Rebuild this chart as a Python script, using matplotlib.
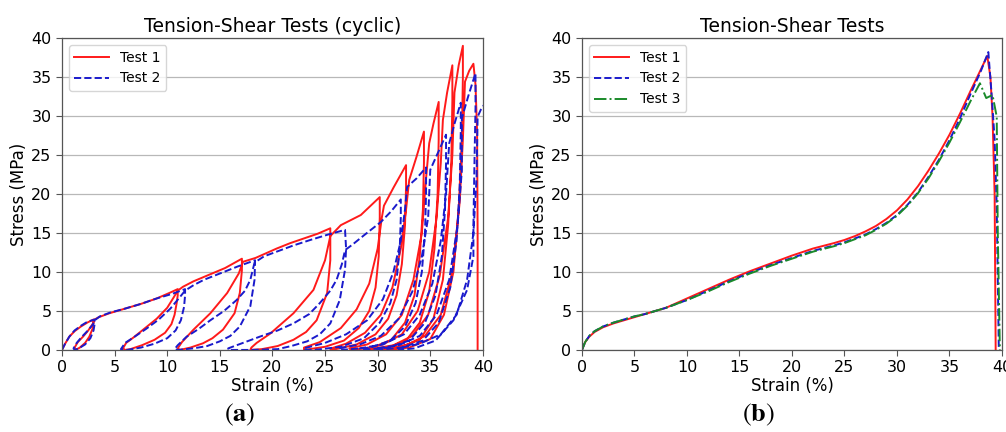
import numpy as np
import matplotlib.pyplot as plt

# ---- (a) cyclic tests, digitised path: envelope -> unload -> reload -> envelope ...
cyc1_strain = [0, 0.3, 0.7, 1.2, 1.8, 2.4, 3.0,
               3.0, 2.9, 2.6, 2.2, 1.7, 1.3,
               1.2, 1.5, 2.0, 2.5, 2.9, 3.1,
               3.5, 4.5, 6.0, 7.5, 9.0, 10.2, 11.0,
               11.0, 10.9, 10.7, 10.4, 9.8, 8.8, 7.6, 6.5, 6.0,
               5.8, 6.1, 6.8, 8.0, 9.0, 10.0, 10.6, 11.0,
               11.5, 12.5, 14.1, 15.5, 17.1,
               17.1, 16.9, 16.4, 15.3, 14.3, 13.4, 12.2, 11.2,
               11.0, 11.4, 12.5, 14.1, 15.7, 16.8, 17.2,
               18.4, 20.4, 21.7, 23.0, 24.3, 25.5,
               25.5, 25.2, 24.2, 23.2, 22.0, 20.5, 19.0, 17.9,
               18.0, 18.5, 19.8, 22.0, 23.9, 25.0, 25.5,
               26.5, 28.4, 30.2,
               30.2, 30.1, 29.8, 29.2, 28.2, 26.8, 25.0, 23.0,
               23.0, 24.5, 26.5, 28.0, 29.2, 30.0, 30.4, 30.6, 31.5, 32.7,
               32.7, 32.6, 32.3, 31.8, 31.0, 29.8, 28.0, 26.0, 25.5,
               25.6, 27.0, 28.8, 30.3, 31.4, 32.2, 32.7, 33.0, 33.7, 34.4,
               34.4, 34.3, 34.0, 33.5, 32.6, 31.3, 29.5, 27.5,
               27.3, 29.0, 30.8, 32.3, 33.4, 34.2, 34.6, 34.9, 35.3, 35.8,
               35.8, 35.7, 35.4, 34.9, 34.0, 32.7, 31.0, 29.0,
               28.8, 30.5, 32.3, 33.8, 34.9, 35.6, 36.0, 36.2, 36.6, 37.1,
               37.1, 37.0, 36.7, 36.2, 35.3, 34.0, 32.0, 30.0,
               29.8, 31.5, 33.3, 34.8, 35.9, 36.7, 37.1, 37.3, 37.7, 38.1,
               38.1, 38.0, 37.7, 37.2, 36.3, 35.0, 33.0, 31.0,
               30.8, 32.7, 34.5, 36.0, 37.1, 37.8, 38.1, 38.3, 38.7, 39.1,
               39.3, 39.45, 39.5, 39.5]
cyc1_stress = [0, 0.8, 1.7, 2.4, 3.0, 3.5, 3.9,
               3.5, 2.7, 1.7, 0.9, 0.3, 0.0,
               0.3, 1.0, 1.7, 2.5, 3.3, 3.9,
               4.2, 4.7, 5.3, 5.9, 6.6, 7.3, 7.8,
               7.0, 6.0, 4.5, 3.3, 2.2, 1.3, 0.6, 0.1, 0.0,
               0.2, 0.9, 1.6, 2.9, 4.0, 5.4, 6.7, 7.6,
               8.1, 8.8, 9.7, 10.5, 11.7,
               10.2, 7.3, 4.7, 2.6, 1.5, 0.85, 0.3, 0.0,
               0.2, 1.0, 2.6, 4.7, 7.3, 9.8, 11.3,
               11.8, 13.0, 13.7, 14.3, 14.9, 15.6,
               11.5, 7.3, 3.8, 2.3, 1.3, 0.5, 0.1, 0.0,
               0.3, 0.9, 2.1, 4.7, 7.7, 11.5, 14.6,
               16.0, 17.3, 19.6,
               17.0, 12.0, 8.0, 5.0, 2.8, 1.2, 0.4, 0.0,
               0.3, 1.0, 2.8, 5.2, 8.5, 13.0, 17.0, 18.5, 20.8, 23.7,
               21.0, 16.0, 11.0, 7.0, 4.0, 2.0, 0.7, 0.1, 0.0,
               0.2, 0.8, 2.2, 4.5, 8.0, 13.0, 18.0, 21.8, 24.8, 28.0,
               24.0, 18.0, 12.0, 7.0, 3.5, 1.3, 0.3, 0.0,
               0.2, 0.7, 2.0, 4.5, 9.0, 15.0, 22.0, 26.5, 29.0, 31.8,
               27.0, 20.0, 13.0, 7.5, 3.5, 1.2, 0.3, 0.0,
               0.2, 0.7, 2.0, 5.0, 10.0, 17.0, 24.0, 29.5, 33.0, 36.5,
               32.0, 24.0, 16.0, 9.0, 4.0, 1.3, 0.3, 0.0,
               0.2, 0.6, 1.8, 4.5, 9.5, 17.0, 25.0, 33.0, 36.5, 39.0,
               35.0, 27.0, 18.0, 10.0, 4.5, 1.4, 0.3, 0.0,
               0.2, 0.6, 1.8, 4.5, 10.0, 19.0, 27.0, 34.4, 35.8, 36.7,
               34.0, 28.0, 15.0, 0.0]

cyc2_strain = [0, 0.3, 0.7, 1.2, 1.8, 2.4, 3.1,
               3.1, 3.0, 2.7, 2.2, 1.6, 1.2,
               1.1, 1.4, 1.9, 2.4, 2.9, 3.2,
               3.6, 4.6, 6.0, 7.5, 9.0, 10.5, 11.7,
               11.7, 11.6, 11.3, 10.8, 10.0, 8.8, 7.5, 6.2,
               5.6, 6.0, 6.8, 8.0, 9.2, 10.3, 11.1, 11.7,
               12.5, 13.5, 15.0, 16.7, 18.35,
               18.3, 17.9, 16.9, 16.0, 15.0, 13.8, 12.5, 11.0,
               10.7, 11.0, 11.85, 13.0, 14.1, 15.4, 16.6, 17.4, 17.9, 18.3,
               19.2, 20.4, 22.0, 23.6, 25.3, 26.9,
               27.0, 26.9, 26.4, 25.5, 24.5, 23.3, 21.8, 20.5, 18.0, 15.8,
               15.8, 17.0, 18.8, 20.5, 22.0, 23.5, 24.5, 25.5, 26.1, 26.6, 26.9,
               27.6, 28.7, 30.3, 31.3, 32.2,
               32.2, 32.1, 31.8, 31.2, 30.2, 28.7, 26.5, 24.0, 23.0,
               23.0, 25.0, 27.0, 29.0, 30.5, 31.5, 32.2, 32.6, 32.8, 33.7, 34.6,
               34.6, 34.5, 34.2, 33.6, 32.6, 31.2, 29.3, 26.5,
               26.3, 28.3, 30.3, 32.0, 33.3, 34.2, 34.8, 35.0, 35.8, 36.5,
               36.5, 36.4, 36.1, 35.5, 34.5, 33.0, 31.0, 28.5,
               28.3, 30.5, 32.5, 34.0, 35.2, 36.0, 36.5, 36.8, 37.3, 37.9,
               37.9, 37.8, 37.5, 36.9, 35.8, 34.3, 32.3, 30.0,
               29.8, 32.0, 34.0, 35.6, 36.8, 37.6, 38.0, 38.0, 38.6, 39.3,
               39.3, 39.2, 39.1, 39.1, 38.5, 37.2, 35.5, 33.5, 32.0,
               32.0, 34.0, 36.0, 37.5, 38.5, 39.1, 39.4, 39.5, 39.8, 40.3]
cyc2_stress = [0, 0.8, 1.7, 2.5, 3.1, 3.6, 3.9,
               3.3, 2.5, 1.5, 0.7, 0.2, 0.0,
               0.2, 0.9, 1.7, 2.4, 3.2, 3.9,
               4.3, 4.8, 5.3, 5.9, 6.6, 7.2, 7.8,
               7.0, 5.5, 3.8, 2.5, 1.5, 0.8, 0.3, 0.0,
               0.1, 0.9, 1.6, 2.7, 3.9, 5.3, 6.6, 7.6,
               8.3, 9.0, 9.8, 10.7, 11.5,
               9.0, 5.6, 3.0, 1.8, 1.1, 0.5, 0.2, 0.0,
               0.1, 0.6, 1.7, 2.7, 3.8, 5.0, 6.4, 7.6, 9.0, 11.2,
               12.0, 12.6, 13.4, 14.1, 14.8, 15.4,
               13.0, 10.3, 6.4, 3.4, 2.0, 1.1, 0.5, 0.1, 0.0, 0.0,
               0.2, 0.8, 1.7, 2.5, 3.4, 4.6, 6.0, 7.6, 9.0, 11.0, 12.8,
               13.5, 14.7, 16.4, 17.8, 19.3,
               17.0, 13.0, 9.0, 6.0, 3.5, 1.5, 0.4, 0.0, 0.0,
               0.2, 0.9, 2.0, 3.8, 6.5, 10.0, 14.0, 18.0, 20.9, 22.0, 23.4,
               20.0, 15.0, 10.0, 6.0, 3.0, 1.2, 0.3, 0.0,
               0.2, 0.7, 1.8, 4.0, 7.5, 12.0, 17.0, 23.1, 25.5, 27.6,
               24.0, 18.0, 12.0, 7.0, 3.5, 1.2, 0.3, 0.0,
               0.2, 0.7, 2.0, 4.5, 8.5, 14.0, 20.0, 26.5, 29.0, 31.7,
               28.0, 21.0, 14.0, 8.0, 3.5, 1.2, 0.3, 0.0,
               0.2, 0.6, 1.8, 4.5, 9.0, 16.0, 23.0, 29.7, 32.5, 35.5,
               31.0, 24.0, 16.0, 12.0, 7.7, 3.8, 1.2, 0.2, 0.0,
               0.2, 0.8, 2.0, 4.5, 9.0, 15.0, 22.0, 29.9, 30.8, 31.8]

# ---- (b) monotonic tests
mono1_strain = [0, 0.3, 0.7, 1.2, 2, 3, 4, 5, 6, 7, 8, 9, 10, 12, 14, 16, 18, 20,
                22, 24, 25, 26, 27, 28, 29, 30, 31, 32, 33, 34, 35, 36, 37, 38,
                38.6, 38.9, 39.1, 39.3, 39.4]
mono1_stress = [0, 1.0, 1.7, 2.3, 2.9, 3.4, 3.8, 4.2, 4.6, 5.0, 5.4, 6.0, 6.6, 7.8,
                9.0, 10.1, 11.1, 12.1, 13.0, 13.7, 14.1, 14.6, 15.2, 15.9, 16.8,
                17.9, 19.3, 21.0, 23.0, 25.2, 27.6, 30.3, 33.2, 36.0,
                37.7, 35.0, 30.0, 20.0, 0.0]

mono2_strain = [0, 0.3, 0.7, 1.2, 2, 3, 4, 5, 6, 7, 8, 9, 10, 12, 14, 16, 18, 20,
                22, 24, 25, 26, 27, 28, 29, 30, 31, 32, 33, 34, 35, 36, 37, 38,
                38.7, 39.0, 39.3, 39.5, 39.7]
mono2_stress = [0, 1.0, 1.8, 2.4, 3.0, 3.5, 3.9, 4.3, 4.6, 5.0, 5.4, 5.9, 6.4, 7.6,
                8.8, 9.9, 10.9, 11.8, 12.7, 13.4, 13.8, 14.3, 14.8, 15.5, 16.3,
                17.3, 18.6, 20.2, 22.2, 24.4, 26.9, 29.7, 32.8, 35.8,
                38.2, 33.0, 27.0, 18.4, 0.0]

mono3_strain = [0, 0.3, 0.7, 1.2, 2, 3, 4, 5, 6, 7, 8, 9, 10, 12, 14, 16, 18, 20,
                22, 24, 25, 26, 27, 28, 29, 30, 31, 32, 33, 34, 35, 36, 37, 37.9,
                38.5, 39.1, 39.5, 39.6, 39.8]
mono3_stress = [0, 1.0, 1.8, 2.4, 3.0, 3.5, 3.9, 4.3, 4.6, 5.0, 5.4, 5.9, 6.4, 7.5,
                8.7, 9.8, 10.8, 11.7, 12.6, 13.3, 13.7, 14.2, 14.7, 15.4, 16.2,
                17.2, 18.5, 20.1, 22.0, 24.2, 26.6, 29.2, 31.9, 34.2,
                32.3, 32.7, 29.9, 15.0, 0.0]

fig = plt.figure(figsize=(10.06, 4.32), dpi=100)
ax1 = fig.add_axes([0.0616, 0.190, 0.4184, 0.722])
ax2 = fig.add_axes([0.5785, 0.190, 0.4175, 0.722])


def style_axes(ax, title):
    ax.set_xlim(0, 40)
    ax.set_ylim(0, 40)
    ax.set_xticks(np.arange(0, 41, 5))
    ax.set_yticks(np.arange(0, 41, 5))
    ax.yaxis.grid(True, color='#b8b8b8', linewidth=0.9)
    ax.set_axisbelow(True)
    ax.tick_params(labelsize=11.5, length=4, color='#555555')
    for s in ax.spines.values():
        s.set_color('#555555')
        s.set_linewidth(0.9)
    ax.set_title(title, fontsize=13.5, pad=4)
    ax.set_xlabel('Strain (%)', fontsize=12, labelpad=1)
    ax.set_ylabel('Stress (MPa)', fontsize=12, labelpad=2)


ax1.plot(cyc1_strain, cyc1_stress, color='#ff1a1a', lw=1.4, label='Test 1')
ax1.plot(cyc2_strain, cyc2_stress, color='#1a1acc', lw=1.4, ls='--', label='Test 2')
style_axes(ax1, 'Tension-Shear Tests (cyclic)')
ax1.legend(loc='upper left', fontsize=10, handlelength=2.5, borderaxespad=0.5)

ax2.plot(mono1_strain, mono1_stress, color='#ff1a1a', lw=1.4, label='Test 1')
ax2.plot(mono2_strain, mono2_stress, color='#1a1acc', lw=1.4, ls='--', label='Test 2')
ax2.plot(mono3_strain, mono3_stress, color='#1a8a2a', lw=1.4, ls='-.', label='Test 3')
style_axes(ax2, 'Tension-Shear Tests')
ax2.legend(loc='upper left', fontsize=10, handlelength=2.5, borderaxespad=0.5)

plt.rcParams['mathtext.fontset'] = 'stix'
fig.text(0.2385, 0.04, r'$(\mathbf{a})$', fontsize=19, ha='center', va='center')
fig.text(0.7535, 0.04, r'$(\mathbf{b})$', fontsize=19, ha='center', va='center')

fig.savefig('out.png', dpi=100)
